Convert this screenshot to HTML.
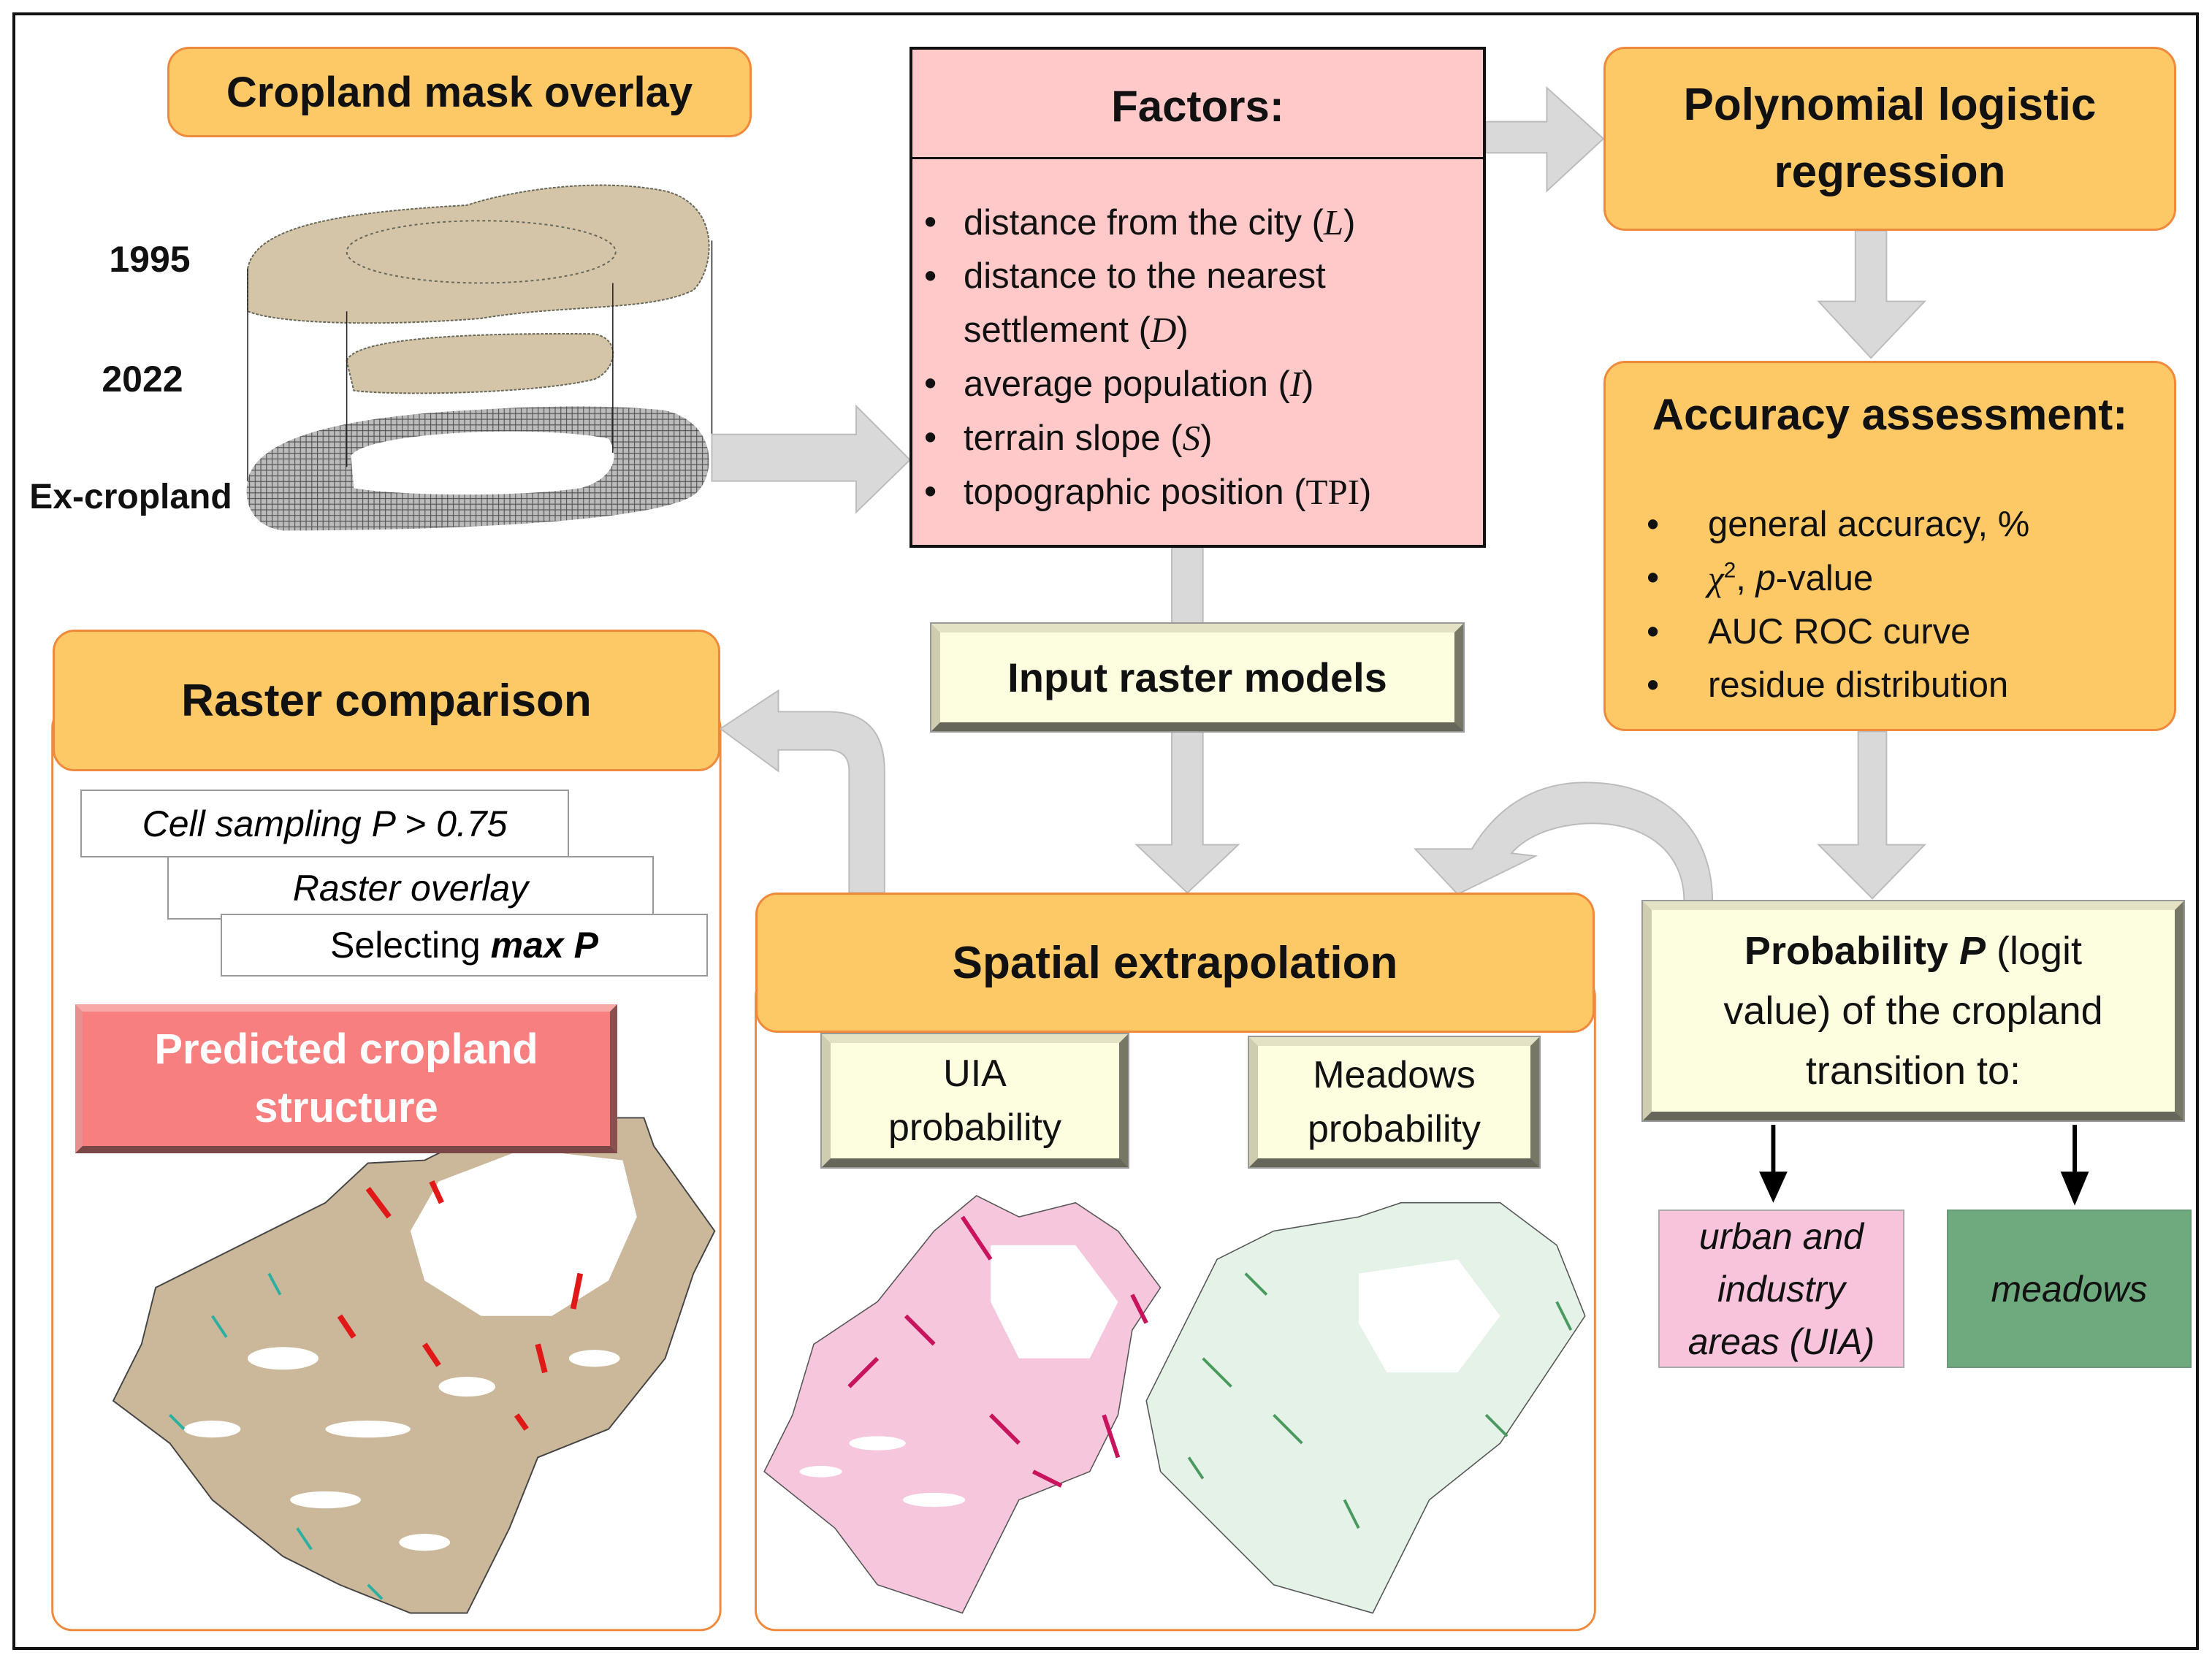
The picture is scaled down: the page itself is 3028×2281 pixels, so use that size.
<!DOCTYPE html>
<html><head><meta charset="utf-8"><style>
body{margin:0;background:#fff;}
#c{position:relative;width:3028px;height:2281px;overflow:hidden;background:#fff;font-family:"Liberation Sans",sans-serif;}
.b{position:absolute;box-sizing:border-box;display:flex;align-items:center;justify-content:center;text-align:center;color:#111;}
.or{background:#fdc967;border:3px solid #ef8a3c;border-radius:30px;font-weight:bold;}
.bev{background:#fdfde0;border:12px solid;border-color:#e4e2c4 #777766 #66665a #cfcdb0;box-shadow:0 0 0 2px #999;}
.wb{position:absolute;box-sizing:border-box;background:#fff;border:2px solid #999;font-size:50px;display:flex;align-items:center;justify-content:center;}
ul{margin:0;padding:0;list-style:none;}
li{position:relative;padding-left:70px;}
li:before{content:"•";position:absolute;left:16px;}
.s{font-family:"Liberation Serif",serif;font-style:italic;}
</style></head><body><div id="c">
<svg style="position:absolute;left:0;top:0" width="3028" height="2281">
<defs>
<pattern id="hx" width="4" height="4" patternUnits="userSpaceOnUse"><rect width="4" height="4" fill="#bbb"/><path d="M0 0H4M0 0V4" stroke="#555" stroke-width="1.2"/></pattern>
</defs>
<rect x="19" y="19" width="2989" height="2238" fill="none" stroke="#111" stroke-width="4"/>
<g transform="scale(1.9373)">
<rect x="37" y="500" width="472" height="652" rx="14" fill="#fff" stroke="#ef8a3c" stroke-width="1.5"/>
<rect x="534" y="690" width="593" height="462" rx="14" fill="#fff" stroke="#ef8a3c" stroke-width="1.5"/>
<path d="M175,190 C180,160 240,150 330,145 C360,135 420,125 470,135 C510,145 505,190 490,205 C460,220 400,215 340,225 C280,230 200,230 175,220 Z" fill="#d4c4a8" stroke="#665" stroke-width="1" stroke-dasharray="2 1"/>
<ellipse cx="340" cy="178" rx="95" ry="22" fill="none" stroke="#665" stroke-dasharray="2 2"/>
<path d="M245,255 C250,240 320,235 420,236 C440,240 435,262 420,268 C380,278 280,280 250,276 Z" fill="#d4c4a8" stroke="#665" stroke-width="1" stroke-dasharray="2 1"/>
<path d="M175,340 C180,310 240,295 330,290 C360,288 420,285 470,290 C510,300 505,340 490,350 C460,370 300,375 200,375 C178,372 172,355 175,340 Z" fill="url(#hx)"/>
<path d="M248,322 C260,305 380,300 430,310 C440,325 430,340 410,345 C360,352 280,350 250,345 Z" fill="#fff"/>
<g stroke="#222" stroke-width="0.8"><line x1="175" y1="190" x2="175" y2="340"/><line x1="245" y1="220" x2="245" y2="330"/><line x1="433" y1="200" x2="433" y2="320"/><line x1="503" y1="170" x2="503" y2="315"/></g>
<g fill="#d9d9d9" stroke="#bbb" stroke-width="1">
<polygon points="503,307 605,307 605,287 643,325 605,362 605,340 503,340"/>
<polygon points="1050,86 1093,86 1093,62 1133,98 1093,135 1093,108 1050,108"/>
<polygon points="1311,163 1333,163 1333,213 1360,213 1322,253 1285,213 1311,213"/>
<rect x="828" y="387" width="22" height="54"/>
<polygon points="828,517 850,517 850,597 875,597 839,631 803,597 828,597"/>
<polygon points="1313,517 1333,517 1333,597 1360,597 1323,635 1285,597 1313,597"/>
<path d="M600,631 L600,545 Q600,530 585,530 L550,530 L550,545 L509,515 L550,488 L550,503 L585,503 Q625,503 625,545 L625,631 Z"/>
<path d="M1190,637 C1190,600 1160,580 1120,582 C1090,584 1075,595 1068,603 L1085,605 L1030,632 L1000,600 L1040,600 C1055,575 1080,553 1120,553 C1180,553 1210,590 1210,637 Z"/>
</g>
<g stroke="#000" stroke-width="3" fill="#000">
<line x1="1253" y1="795" x2="1253" y2="830"/><polygon points="1243,828 1263,828 1253,850" stroke="none"/>
<line x1="1466" y1="795" x2="1466" y2="830"/><polygon points="1456,828 1476,828 1466,852" stroke="none"/>
</g>
<path d="M300,820 L340,800 400,790 455,790 462,810 505,870 490,900 470,960 430,1010 380,1030 360,1080 330,1140 290,1140 240,1120 200,1100 150,1060 120,1020 80,990 100,950 110,910 140,895 180,875 230,850 260,822 Z" fill="#cbb89a" stroke="#444" stroke-width="1"/>
<path d="M310,835 L370,812 440,820 450,860 430,905 390,930 340,930 300,905 290,870 Z" fill="#fff"/>
<g fill="#fff"><ellipse cx="200" cy="960" rx="25" ry="8"/><ellipse cx="260" cy="1010" rx="30" ry="6"/><ellipse cx="150" cy="1010" rx="20" ry="6"/><ellipse cx="330" cy="980" rx="20" ry="7"/><ellipse cx="230" cy="1060" rx="25" ry="6"/><ellipse cx="300" cy="1090" rx="18" ry="6"/><ellipse cx="420" cy="960" rx="18" ry="6"/></g>
<g stroke="#e01818" stroke-width="4"><line x1="260" y1="840" x2="275" y2="860"/><line x1="305" y1="835" x2="312" y2="850"/><line x1="380" y1="950" x2="385" y2="970"/><line x1="240" y1="930" x2="250" y2="945"/><line x1="410" y1="900" x2="405" y2="925"/><line x1="300" y1="950" x2="310" y2="965"/><line x1="365" y1="1000" x2="372" y2="1010"/></g>
<g stroke="#2ab0a0" stroke-width="2"><line x1="150" y1="930" x2="160" y2="945"/><line x1="120" y1="1000" x2="130" y2="1010"/><line x1="210" y1="1080" x2="220" y2="1095"/><line x1="260" y1="1120" x2="270" y2="1130"/><line x1="190" y1="900" x2="198" y2="915"/></g>
<path d="M560,1000 L575,950 620,920 660,870 690,845 720,860 760,850 790,870 820,910 800,940 790,1000 770,1040 720,1060 700,1100 680,1140 620,1120 590,1080 540,1040 Z" fill="#f6c6dc" stroke="#555" stroke-width="0.8"/>
<path d="M700,880 L760,880 790,920 770,960 720,960 700,920 Z" fill="#fff"/>
<g stroke="#c8145c" stroke-width="3"><line x1="680" y1="860" x2="700" y2="890"/><line x1="640" y1="930" x2="660" y2="950"/><line x1="780" y1="1000" x2="790" y2="1030"/><line x1="700" y1="1000" x2="720" y2="1020"/><line x1="620" y1="960" x2="600" y2="980"/><line x1="730" y1="1040" x2="750" y2="1050"/><line x1="800" y1="915" x2="810" y2="935"/></g>
<g fill="#fff"><ellipse cx="620" cy="1020" rx="20" ry="5"/><ellipse cx="660" cy="1060" rx="22" ry="5"/><ellipse cx="580" cy="1040" rx="15" ry="4"/></g>
<path d="M830,950 L860,890 900,870 960,860 990,850 1060,850 1100,880 1120,930 1100,960 1060,1020 1010,1060 990,1100 970,1140 900,1120 860,1080 820,1040 810,990 Z" fill="#e4f2e8" stroke="#555" stroke-width="0.8"/>
<path d="M960,900 L1030,890 1060,930 1030,970 980,970 960,935 Z" fill="#fff"/>
<g stroke="#4a9a60" stroke-width="2"><line x1="850" y1="960" x2="870" y2="980"/><line x1="900" y1="1000" x2="920" y2="1020"/><line x1="880" y1="900" x2="895" y2="915"/><line x1="950" y1="1060" x2="960" y2="1080"/><line x1="1050" y1="1000" x2="1065" y2="1015"/><line x1="1100" y1="920" x2="1110" y2="940"/><line x1="840" y1="1030" x2="850" y2="1045"/></g>
</g>
</svg>

<div class="b or" style="left:229px;top:64px;width:800px;height:124px;font-size:58px;">Cropland mask overlay</div>
<div class="b" style="left:120px;top:320px;width:170px;height:70px;font-size:50px;font-weight:bold;">1995</div>
<div class="b" style="left:110px;top:484px;width:170px;height:70px;font-size:50px;font-weight:bold;">2022</div>
<div class="b" style="left:24px;top:645px;width:310px;height:70px;font-size:48px;font-weight:bold;">Ex-cropland</div>

<div class="b" style="left:1245px;top:64px;width:789px;height:686px;background:#ffc9c9;border:4px solid #111;display:block;text-align:left;">
<div style="height:150px;border-bottom:3px solid #111;display:flex;align-items:center;justify-content:center;font-size:60px;font-weight:bold;padding-top:8px;box-sizing:border-box;">Factors:</div>
<ul style="font-size:49px;line-height:73px;padding-top:50px;">
<li>distance from the city (<span class="s">L</span>)</li>
<li>distance to the nearest settlement (<span class="s">D</span>)</li>
<li>average population (<span class="s">I</span>)</li>
<li>terrain slope (<span class="s">S</span>)</li>
<li>topographic position (<span style="font-family:'Liberation Serif',serif">TPI</span>)</li>
</ul></div>

<div class="b or" style="left:2195px;top:64px;width:784px;height:252px;font-size:62px;line-height:92px;">Polynomial logistic<br>regression</div>
<div class="b or" style="left:2195px;top:494px;width:784px;height:507px;display:block;text-align:left;">
<div style="text-align:center;font-size:60px;padding-top:36px;">Accuracy assessment:</div>
<ul style="font-size:49px;line-height:73px;font-weight:normal;margin-top:80px;padding-left:40px;">
<li style="padding-left:100px">general accuracy, %</li>
<li style="padding-left:100px"><span class="s">χ</span><sup style="font-size:30px;line-height:0">2</sup>, <i>p</i>-value</li>
<li style="padding-left:100px">AUC ROC curve</li>
<li style="padding-left:100px">residue distribution</li>
</ul></div>

<div class="b bev" style="left:1275px;top:854px;width:728px;height:147px;font-size:56px;font-weight:bold;">Input raster models</div>

<div class="b or" style="left:72px;top:862px;width:914px;height:194px;font-size:62px;">Raster comparison</div>
<div class="wb" style="left:110px;top:1081px;width:669px;height:93px;font-style:italic;">Cell sampling P &gt; 0.75</div>
<div class="wb" style="left:229px;top:1172px;width:666px;height:87px;font-style:italic;">Raster overlay</div>
<div class="wb" style="left:302px;top:1251px;width:667px;height:86px;">Selecting&nbsp;<b><i>max P</i></b></div>
<div class="b" style="left:103px;top:1375px;width:742px;height:204px;background:#f77f7f;border:10px solid;border-color:#f9a8a8 #8a5050 #7a4646 #e89090;color:#fff;font-size:58px;font-weight:bold;line-height:80px;">Predicted cropland<br>structure</div>

<div class="b or" style="left:1034px;top:1222px;width:1149px;height:192px;font-size:62px;">Spatial extrapolation</div>
<div class="b bev" style="left:1125px;top:1416px;width:419px;height:182px;font-size:52px;line-height:74px;">UIA<br>probability</div>
<div class="b bev" style="left:1710px;top:1420px;width:397px;height:178px;font-size:52px;line-height:74px;">Meadows<br>probability</div>

<div class="b bev" style="left:2249px;top:1234px;width:740px;height:300px;font-size:54px;line-height:82px;"><div><b>Probability <i>P</i></b> (logit<br>value) of the cropland<br>transition to:</div></div>
<div class="b" style="left:2270px;top:1656px;width:337px;height:217px;background:#f8c4dc;border:2px solid #aaa;font-size:50px;font-style:italic;line-height:72px;">urban and<br>industry<br>areas (UIA)</div>
<div class="b" style="left:2665px;top:1656px;width:335px;height:217px;background:#6faa7e;border:2px solid #6a9a78;font-size:50px;font-style:italic;">meadows</div>
</div></body></html>
